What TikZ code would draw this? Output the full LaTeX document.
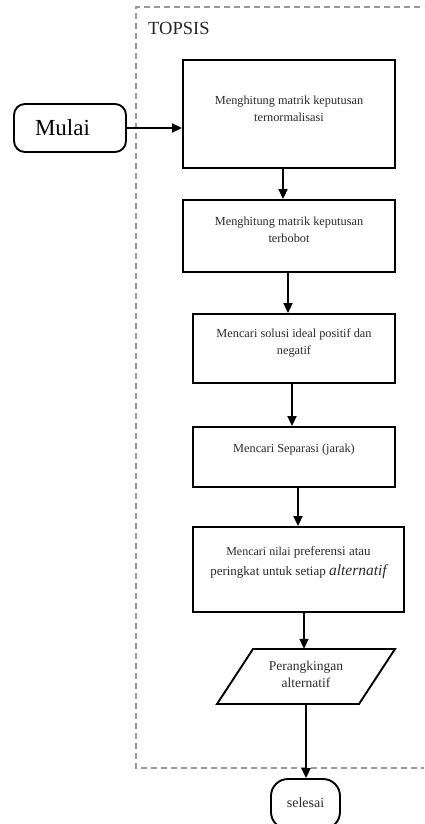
\documentclass[tikz,border=0pt]{standalone}
\usepackage{fontspec}
\setmainfont{Liberation Serif}
\usetikzlibrary{arrows.meta,calc}
\definecolor{txtgray}{HTML}{2A2A2A}
\definecolor{dashgray}{HTML}{9A9A9A}
\tikzset{
  stepbox/.style={draw=black, line width=1.9pt, minimum width=#1, inner sep=0pt},
  lbl/.style={text=txtgray, font=\fontsize{12.3}{17}\selectfont, align=center, inner sep=0pt},
  arr/.style={line width=1.9pt, -{Triangle[length=10pt,width=9pt]}},
  frame/.style={draw=dashgray, line width=1.2pt, dash pattern=on 6pt off 4pt},
}
\begin{document}
\begin{tikzpicture}[x=1pt,y=-1pt]
\useasboundingbox (0,0) rectangle (424,824);
\clip (0,0) rectangle (424,824);
\fill[white] (0,0) rectangle (424,824);

% dashed TOPSIS frame (open to the right)
\draw[frame] (430,7) -- (136,7) -- (136,768) -- (430,768);
\node[anchor=west, font=\fontsize{18.5}{20}\selectfont, text=black!85, inner sep=0pt] (title) at (148,28) {TOPSIS};

% start terminator
\node[draw, line width=1.9pt, rounded corners=11pt, minimum width=112pt, minimum height=48pt] (start) at (70,128) {};
\node[font=\fontsize{23}{25}\selectfont, inner sep=0pt] (startt) at (62.5,128) {Mulai};

% process boxes
\node[stepbox=212pt, minimum height=108pt] (b1) at (289,114) {};
\node[lbl] (b1t) at (289,109) {Menghitung matrik keputusan\\ternormalisasi};

\node[stepbox=212pt, minimum height=72pt] (b2) at (289,236) {};
\node[lbl] (b2t) at (289,230) {Menghitung matrik keputusan\\terbobot};

\node[stepbox=202pt, minimum height=69pt] (b3) at (294,348.5) {};
\node[lbl] (b3t) at (294,342.5) {Mencari solusi ideal positif dan\\negatif};

\node[stepbox=202pt, minimum height=60pt] (b4) at (294,457) {};
\node[lbl] (b4t) at (294,450) {Mencari Separasi (jarak)};

\node[stepbox=211pt, minimum height=85pt] (b5) at (298.5,569.5) {};
\node[lbl, font=\fontsize{13}{20}\selectfont] (b5t) at (298.5,563) {{\fontsize{12}{20}\selectfont Mencari nilai} preferensi atau\\peringkat untuk setiap {\fontsize{15.5}{20}\selectfont\itshape alternatif}};

% output parallelogram
\node[minimum width=142pt, minimum height=55pt, inner sep=0pt] (rank) at (306,676.5) {};
\draw[line width=1.9pt, line join=miter] ($(rank.center)+(-53,-27.5)$) -- ($(rank.center)+(89,-27.5)$)
  -- ($(rank.center)+(53,27.5)$) -- ($(rank.center)+(-89,27.5)$) -- cycle;
\node[lbl, font=\fontsize{13.5}{17}\selectfont] (rankt) at (306,674.5) {Perangkingan\\alternatif};

% end terminator
\node[draw, line width=1.9pt, rounded corners=17pt, minimum width=69pt, minimum height=50pt] (stop) at (305.5,804) {};
\node[lbl, font=\fontsize{14}{17}\selectfont] (stopt) at (305.5,803) {selesai};

% connectors
\draw[arr] (start.east) -- (start.east -| b1.west);
\draw[arr] ([xshift=-6pt]b1.south) -- ([xshift=-6pt]b1.south |- b2.north);
\draw[arr] ([xshift=-1pt]b2.south) -- ([xshift=-1pt]b2.south |- b3.north);
\draw[arr] ([xshift=-2pt]b3.south) -- ([xshift=-2pt]b3.south |- b4.north);
\draw[arr] ([xshift=4pt]b4.south) -- ([xshift=4pt]b4.south |- b5.north);
\draw[arr] ([xshift=5.5pt]b5.south) -- ([xshift=5.5pt]b5.south |- rank.north);
\draw[arr] (rank.south) -- (rank.south |- stop.north);
\end{tikzpicture}
\end{document}
